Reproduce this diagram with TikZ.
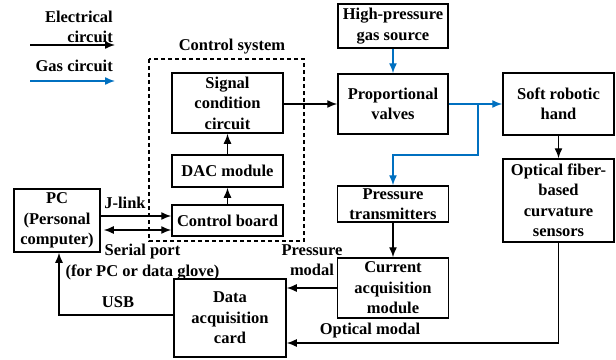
\documentclass[tikz,border=0pt]{standalone}
\usepackage{fontspec}
\setmainfont{Liberation Serif}
\usepackage{tikz}
\usetikzlibrary{positioning, arrows.meta}
\definecolor{gasblue}{RGB}{0,112,192}
\tikzset{block/.style = {draw, line width=1.5pt, align=center, inner sep=1pt, font=\fontsize{16.5}{20.5}\selectfont\bfseries}}
\tikzset{lbl/.style = {align=center, inner sep=0pt, font=\fontsize{16.5}{20.5}\selectfont\bfseries}}
\tikzset{gas/.style = {->, gasblue, line width=1.4pt}}
\tikzset{elec/.style = {->, black, line width=1.4pt}}

\begin{document}
\begin{tikzpicture}[>={Latex[length=10pt,width=8pt]}, x=1pt, y=-1pt]
  \useasboundingbox (0,0) rectangle (616,359);

  \node [block, minimum width=111pt, minimum height=60pt] (sig) at (227.5,103) {Signal\\condition\\circuit};
  \node [block, minimum width=111pt, minimum height=32pt] (dac) at (227.5,171) {DAC module};
  \node [block, minimum width=111pt, minimum height=31pt] (board) at (227.5,220.5) {Control board};
  \node [block, minimum width=86pt, minimum height=63pt] (pc) at (57,220.5) {PC\\(Personal\\computer)};
  \node [block, minimum width=112pt, minimum height=78pt] (daq) at (230,318) {Data\\acquisition\\card};
  \node [block, minimum width=110pt, minimum height=44pt] (src) at (393,26) {High-pressure\\gas source};
  \node [block, minimum width=110pt, minimum height=60pt] (valve) at (393,104) {Proportional\\valves};
  \node [block, minimum width=111pt, minimum height=62pt] (hand) at (558.5,104) {Soft robotic\\hand};
  \node [block, minimum width=111pt, minimum height=36pt] (trans) at (393,204) {Pressure\\transmitters};
  \node [block, minimum width=111pt, minimum height=60pt] (cam) at (393,288) {Current\\acquisition\\module};
  \node [block, minimum width=111pt, minimum height=83pt] (sens) at (558.5,200.5) {Optical fiber-\\based\\curvature\\sensors};

  \draw [dashed, line width=1.3pt, dash pattern=on 4pt off 3pt] (149,59) rectangle (304,241);
  \node [lbl] (ctrl) at (232,47) {Control system};

  \coordinate (e1) at (30,45);
  \coordinate (e2) at (115,45);
  \coordinate (g1) at (30,81);
  \coordinate (g2) at (115,81);
  \node [lbl, anchor=east, align=right] (elab) at (113,27) {Electrical\\circuit};
  \node [lbl, anchor=east] (glab) at (113,66) {Gas circuit};
  \draw [elec] (e1) -- (e2);
  \draw [gas] (g1) -- (g2);

  \draw [elec] (board) -- (dac);
  \draw [elec] (dac) -- (sig);
  \draw [elec] (sig.east |- valve) -- (valve);
  \draw [gas] (src) -- (valve);
  \draw [gas] (valve) -- (hand);
  \coordinate (split) at (478,104);
  \draw [gas] (split) -- (478,155) -| (trans.north);
  \draw [elec] (hand) -- (sens);
  \draw [elec] (trans) -- (cam);
  \draw [elec] (cam.west) -- (cam.west -| daq.east);
  \draw [elec] (sens.south) |- (daq.east |- 0,343);
  \draw [elec] (daq.west |- 0,315) -| (pc.south -| 59,0);
  \draw [elec] ([yshift=4.5pt]pc.east) -- ([yshift=4.5pt]pc.east -| board.west);
  \draw [elec, <->] ([yshift=-9.5pt,xshift=3pt]pc.east) -- ([yshift=-9.5pt]pc.east -| board.west);

  \node [lbl] (jlink) at (125,203) {J-link};
  \node [lbl] (serial) at (142.5,262) {Serial port\\(for PC or data glove)};
  \node [lbl] (usb) at (118,302) {USB};
  \node [lbl] (pmodal) at (312,260) {Pressure\\modal};
  \node [lbl] (omodal) at (370,331) {Optical modal};
\end{tikzpicture}
\end{document}
